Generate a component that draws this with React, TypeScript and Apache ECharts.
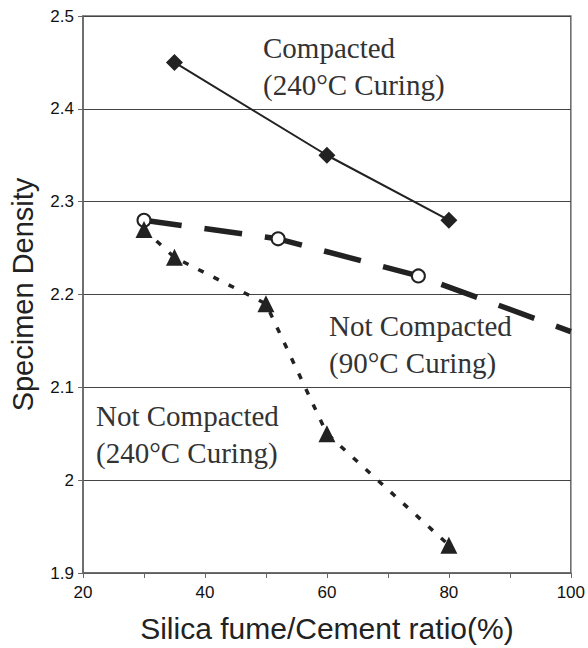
import React, { useEffect, useRef } from "react";
import * as echarts from "echarts";

const compactedX = [35, 60, 80];
const compactedY = [2.45, 2.35, 2.28];

const nc90X = [30, 52, 75, 100];
const nc90Y = [2.28, 2.26, 2.22, 2.16];

const nc240X = [30, 35, 50, 60, 80];
const nc240Y = [2.27, 2.24, 2.19, 2.05, 1.93];

const labelCompacted = "Compacted\n(240°C Curing)";
const labelNc90 = "Not Compacted\n(90°C Curing)";
const labelNc240 = "Not Compacted\n(240°C Curing)";

const xTitle = "Silica fume/Cement ratio(%)";
const yTitle = "Specimen Density";

const pair = (xs: number[], ys: number[]) => xs.map((x, i) => [x, ys[i]]);

export default function App() {
  const ref = useRef<HTMLDivElement>(null);
  useEffect(() => {
    if (!ref.current) return;
    const chart = echarts.init(ref.current, null, { renderer: "svg" });
    const dark = "#222";
    const annStyle = {
      fill: "#333",
      fontFamily: "Liberation Serif, Times New Roman, serif",
      fontSize: 29,
      lineHeight: 37,
    };
    chart.setOption({
      animation: false,
      backgroundColor: "#fff",
      grid: {
        left: 82,
        right: 12,
        top: 16,
        bottom: 75,
        show: true,
        borderColor: "#666",
        borderWidth: 1.5,
        backgroundColor: "transparent",
      },
      xAxis: {
        type: "value",
        min: 20,
        max: 100,
        interval: 20,
        name: xTitle,
        nameLocation: "middle",
        nameGap: 40,
        nameTextStyle: { fontFamily: "Liberation Sans, Arial, sans-serif", fontSize: 30, color: "#222" },
        axisLine: { show: true, lineStyle: { color: "#666", width: 1.5 } },
        axisTick: { show: true, length: 5, lineStyle: { color: "#666" } },
        minorTick: { show: true, splitNumber: 2, length: 5, lineStyle: { color: "#666" } },
        axisLabel: { margin: 11, fontFamily: "Liberation Sans, Arial, sans-serif", fontSize: 17, color: "#111" },
        splitLine: { show: false },
      },
      yAxis: {
        type: "value",
        min: 1.9,
        max: 2.5,
        interval: 0.1,
        name: yTitle,
        nameLocation: "middle",
        nameGap: 46,
        nameTextStyle: { fontFamily: "Liberation Sans, Arial, sans-serif", fontSize: 29, color: "#222" },
        axisLine: { show: true, lineStyle: { color: "#666", width: 1.5 } },
        axisTick: { show: true, length: 5, lineStyle: { color: "#666" } },
        axisLabel: {
          margin: 9,
          fontFamily: "Liberation Sans, Arial, sans-serif",
          fontSize: 17,
          color: "#111",
          formatter: (v: number) => String(Math.round(v * 10) / 10),
        },
        splitLine: { show: true, lineStyle: { color: "#444", width: 1 } },
      },
      series: [
        {
          name: "Compacted (240°C Curing)",
          type: "line",
          data: pair(compactedX, compactedY),
          symbol: "diamond",
          symbolSize: 17,
          lineStyle: { color: dark, width: 2 },
          itemStyle: { color: dark },
        },
        {
          name: "Not Compacted (90°C Curing)",
          type: "line",
          data: pair(nc90X, nc90Y).map((d, i) =>
            i === nc90X.length - 1 ? { value: d, symbol: "none" } : { value: d }
          ),
          symbol: "emptyCircle",
          symbolSize: 13,
          lineStyle: { color: dark, width: 5.5, type: [38, 23] },
          itemStyle: { color: dark, borderColor: dark, borderWidth: 2.5 },
          z: 3,
        },
        {
          name: "Not Compacted (240°C Curing)",
          type: "line",
          data: pair(nc240X, nc240Y),
          symbol: "triangle",
          symbolSize: 17,
          lineStyle: { color: dark, width: 3.5, type: [6, 11] },
          itemStyle: { color: dark },
          z: 4,
        },
      ],
      graphic: [
        { type: "text", left: 263, top: 29, style: { ...annStyle, text: labelCompacted } },
        { type: "text", left: 329, top: 307, style: { ...annStyle, text: labelNc90 } },
        { type: "text", left: 96, top: 397, style: { ...annStyle, text: labelNc240 } },
      ],
    });
    return () => chart.dispose();
  }, []);
  return <div ref={ref} style={{ width: 588, height: 648, position: "absolute", left: 0, top: 0 }} />;
}
